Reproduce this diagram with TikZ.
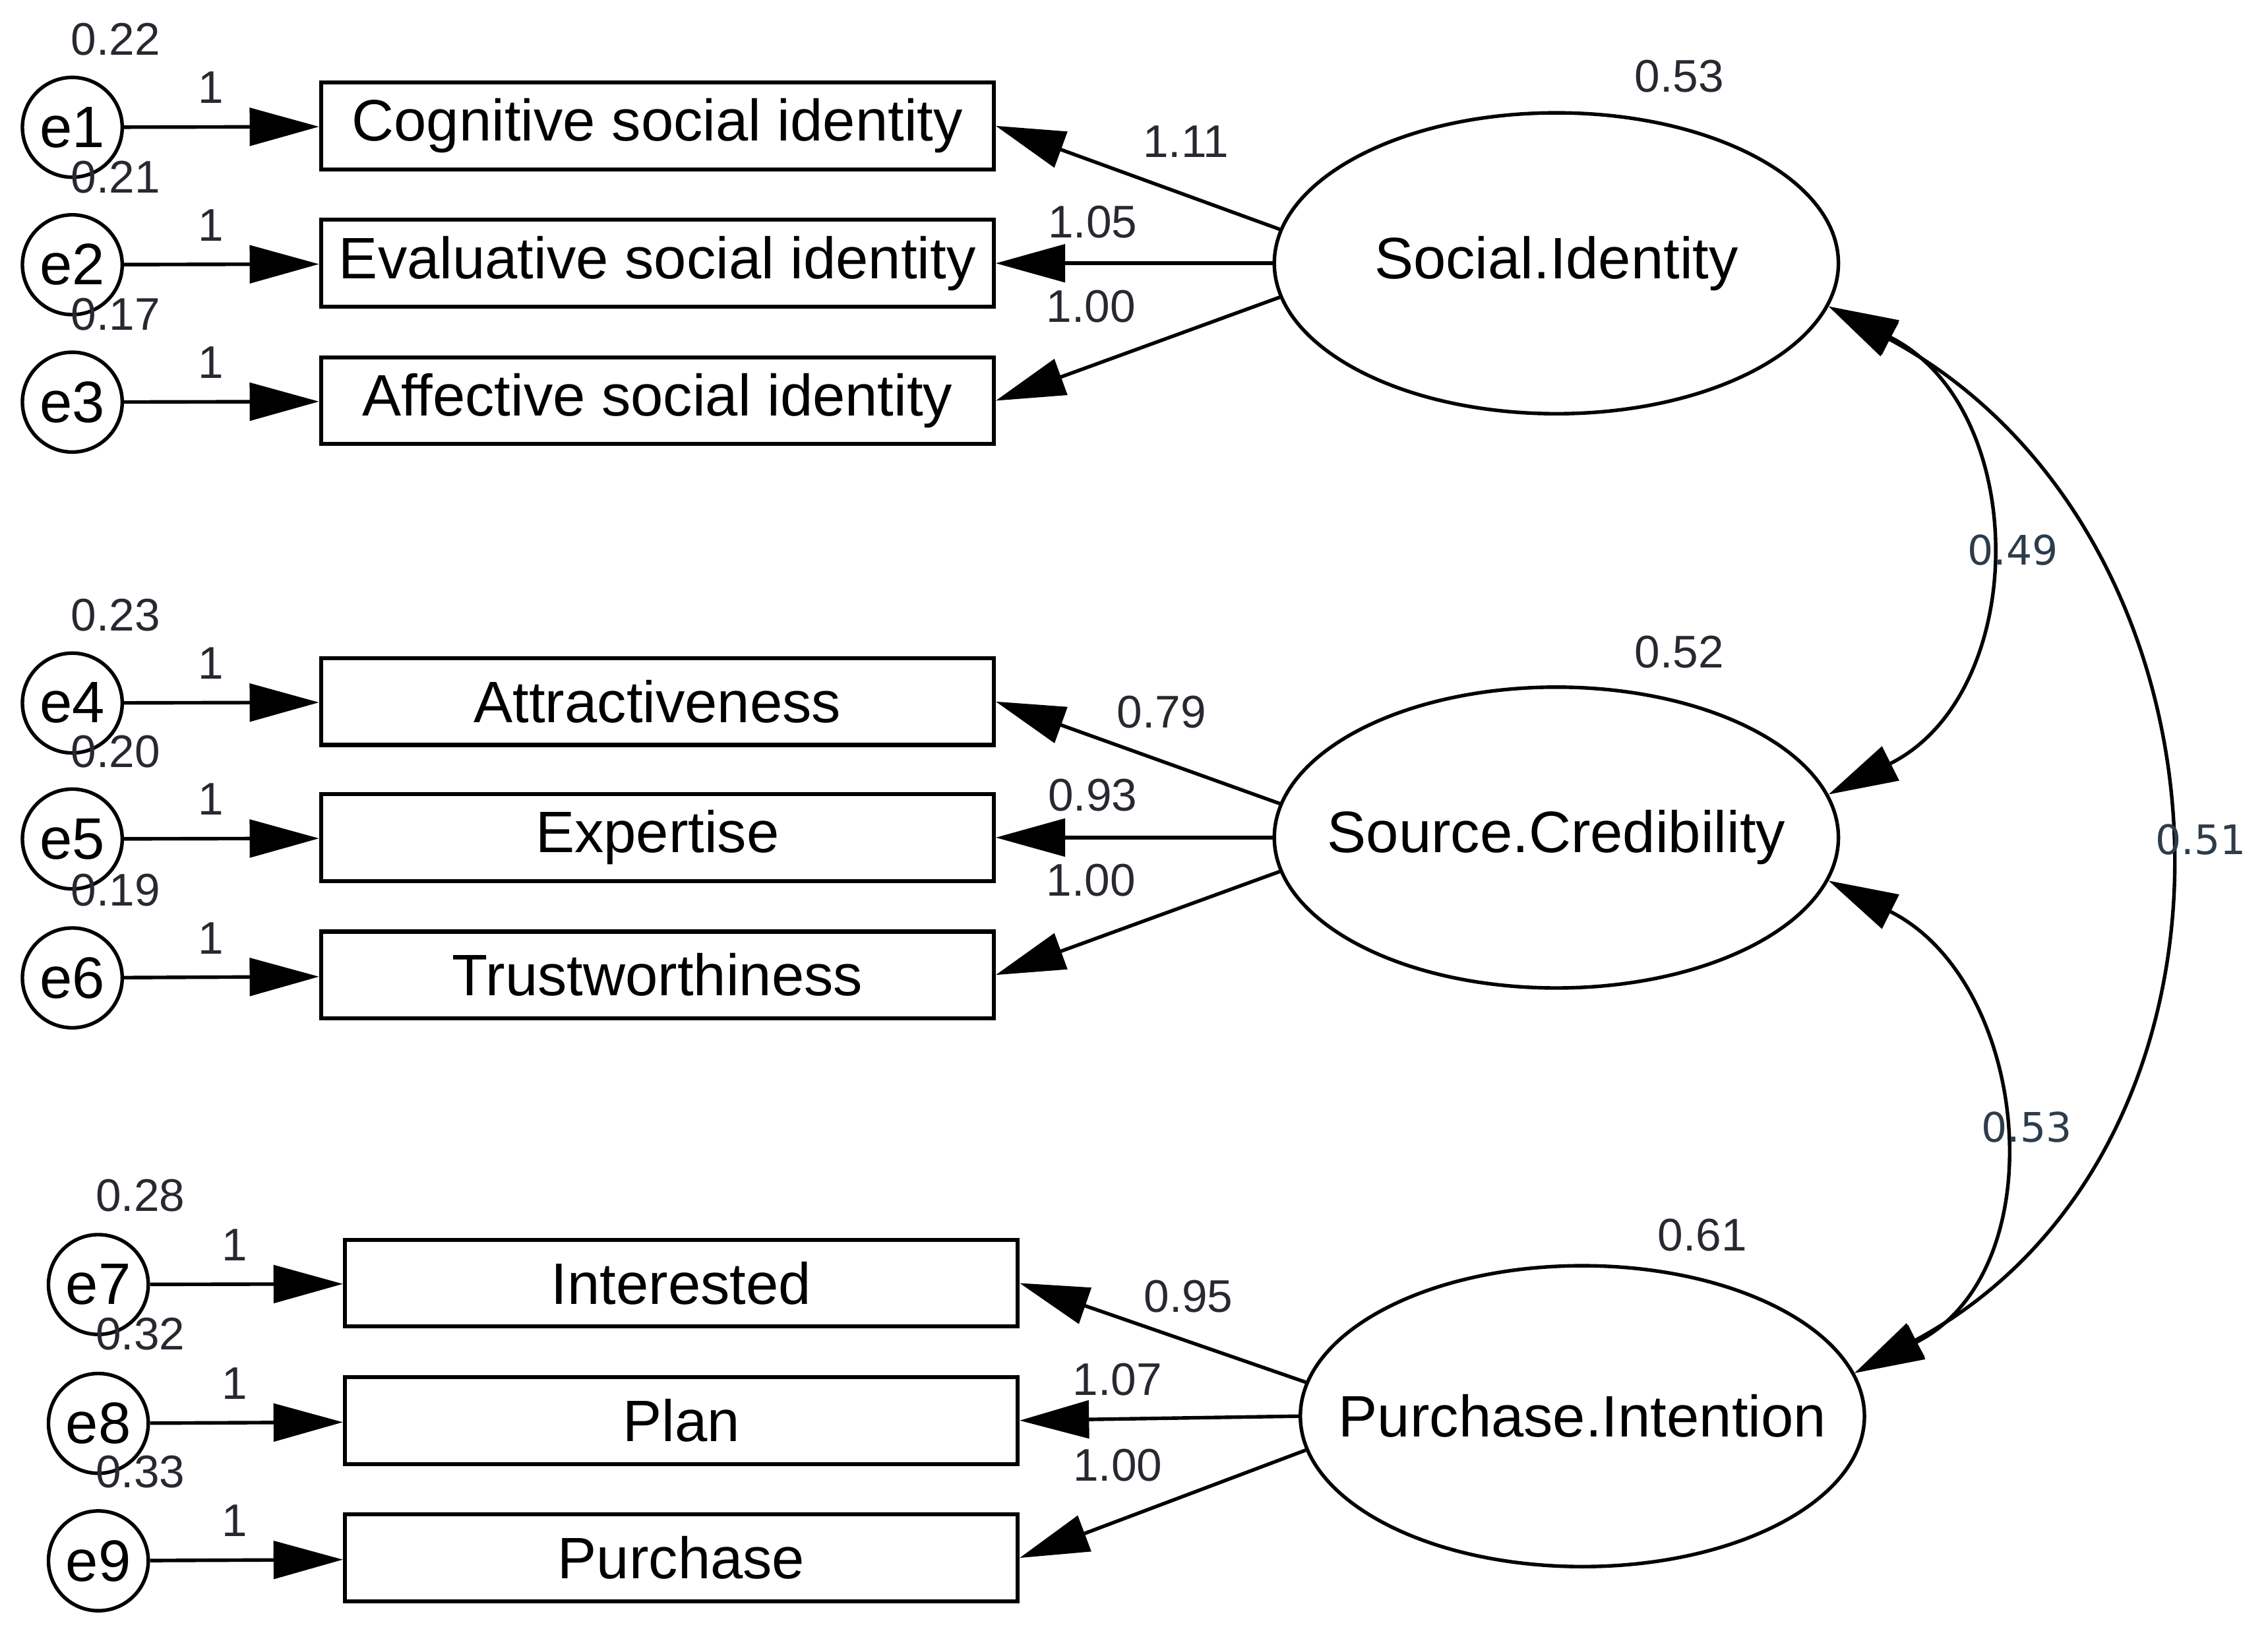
\documentclass[tikz,border=0pt]{standalone}
\usepackage{fontspec}
\setmainfont{Liberation Sans}
\newfontfamily\covfont{DejaVu Sans}
\usetikzlibrary{arrows.meta,shapes.geometric}
\definecolor{valgray}{RGB}{40,40,48}
\definecolor{covgray}{RGB}{45,60,75}

\begin{document}
\begin{tikzpicture}[x=0.1mm,y=-0.1mm,
obs/.style={
	rectangle,minimum width=46.5mm,minimum height=6mm,inner sep=0pt,
	draw=black,line width=0.8pt,
	font=\fontsize{11.5}{13}\selectfont},
lat/.style={
	ellipse,minimum width=39mm,minimum height=20.8mm,inner sep=0pt,
	draw=black,line width=0.7pt,
	font=\fontsize{11.5}{13}\selectfont},
err/.style={
	circle,minimum size=6.9mm,inner sep=0pt,
	draw=black,line width=0.7pt,
	font=\fontsize{11.5}{13}\selectfont},
val/.style={font=\fontsize{9}{10}\selectfont,text=valgray,inner sep=0pt},
cov/.style={font=\covfont\fontsize{8}{9}\selectfont,text=covgray,inner sep=0pt}
]
\tikzstyle{reg}=[-{Triangle[length=4.8mm,width=2.6mm]},line width=0.7pt]
\tikzstyle{corr}=[{Triangle[length=4.8mm,width=2.6mm]}-{Triangle[length=4.8mm,width=2.6mm]},line width=0.7pt]
\useasboundingbox (0,0) rectangle (1568,1130);

\node[lat] (SI) at (1076,182) {\makebox[0pt]{Social.Identity}};
\node[lat] (SC) at (1076,579) {\makebox[0pt]{Source.Credibility}};
\node[lat] (PI) at (1094,979) {\makebox[0pt]{Purchase.Intention}};

\node[obs] (cog) at (454.5,87) {Cognitive social identity};
\node[obs] (eva) at (454.5,182) {Evaluative social identity};
\node[obs] (aff) at (454.5,277) {Affective social identity};
\node[obs] (att) at (454.5,485) {Attractiveness};
\node[obs] (exp) at (454.5,579) {Expertise};
\node[obs] (tru) at (454.5,674) {Trustworthiness};
\node[obs] (int) at (471,887) {Interested};
\node[obs] (pla) at (471,982) {Plan};
\node[obs] (pur) at (471,1077) {Purchase};

\node[err,label={[val,label distance=1.3mm,xshift=3mm]above:0.22}] (e1) at (50,88) {e1};
\node[err,label={[val,label distance=1.3mm,xshift=3mm]above:0.21}] (e2) at (50,183) {e2};
\node[err,label={[val,label distance=1.3mm,xshift=3mm]above:0.17}] (e3) at (50,278) {e3};
\node[err,label={[val,label distance=1.3mm,xshift=3mm]above:0.23}] (e4) at (50,486) {e4};
\node[err,label={[val,label distance=1.3mm,xshift=3mm]above:0.20}] (e5) at (50,580) {e5};
\node[err,label={[val,label distance=1.3mm,xshift=3mm]above:0.19}] (e6) at (50,676) {e6};
\node[err,label={[val,label distance=1.4mm,xshift=2.9mm]above:0.28}] (e7) at (68,888) {e7};
\node[err,label={[val,label distance=1.4mm,xshift=2.9mm]above:0.32}] (e8) at (68,984) {e8};
\node[err,label={[val,label distance=1.4mm,xshift=2.9mm]above:0.33}] (e9) at (68,1079) {e9};

\node[val,anchor=south] (vSI) at ([xshift=8.5mm,yshift=1.2mm]SI.north) {0.53};
\node[val,anchor=south] (vSC) at ([xshift=8.5mm,yshift=1.1mm]SC.north) {0.52};
\node[val,anchor=south] (vPI) at ([xshift=8.3mm,yshift=0.8mm]PI.north) {0.61};

\draw[reg] (e1) -- node[val,pos=0.445,above=1.5mm]{1} (cog);
\draw[reg] (e2) -- node[val,pos=0.445,above=1.5mm]{1} (eva);
\draw[reg] (e3) -- node[val,pos=0.445,above=1.5mm]{1} (aff);
\draw[reg] (e4) -- node[val,pos=0.445,above=1.5mm]{1} (att);
\draw[reg] (e5) -- node[val,pos=0.445,above=1.5mm]{1} (exp);
\draw[reg] (e6) -- node[val,pos=0.445,above=1.5mm]{1} (tru);
\draw[reg] (e7) -- node[val,pos=0.44,above=1.5mm]{1} (int);
\draw[reg] (e8) -- node[val,pos=0.44,above=1.5mm]{1} (pla);
\draw[reg] (e9) -- node[val,pos=0.44,above=1.5mm]{1} (pur);

\draw[reg] (SI.173) -- node[val,pos=0.33,above=2.5mm]{1.11} (cog.east);
\draw[reg] (SI.west) -- node[val,pos=0.65,above=1.6mm]{1.05} (eva.east);
\draw[reg] (SI.187) -- node[val,pos=0.665,above=2.9mm]{1.00} (aff.east);
\draw[reg] (SC.173) -- node[val,pos=0.416,above=2.15mm]{0.79} (att.east);
\draw[reg] (SC.west) -- node[val,pos=0.65,above=1.7mm]{0.93} (exp.east);
\draw[reg] (SC.187) -- node[val,pos=0.665,above=2.9mm]{1.00} (tru.east);
\draw[reg] (PI.173) -- node[val,pos=0.41,above=1.9mm]{0.95} (int.east);
\draw[reg] (PI.west) -- node[val,pos=0.65,above=1.5mm]{1.07} (pla.east);
\draw[reg] (PI.187) -- node[val,pos=0.657,above=2.6mm]{1.00} (pur.east);

\draw[corr] (SI.-9) .. controls +(140,70) and +(140,-70) .. node[cov,pos=0.5,anchor=west,xshift=-1mm]{0.49} (SC.9);
\draw[corr] (SC.-9) .. controls +(140,70) and +(140,-70) .. node[cov,pos=0.5,anchor=west,xshift=-0.95mm]{0.53} (PI.9);
\draw[corr] (SI.-9) .. controls +(293,158) and +(293,-158) .. node[cov,pos=0.5,anchor=west,xshift=-0.4mm]{0.51} (PI.9);
\end{tikzpicture}
\end{document}
